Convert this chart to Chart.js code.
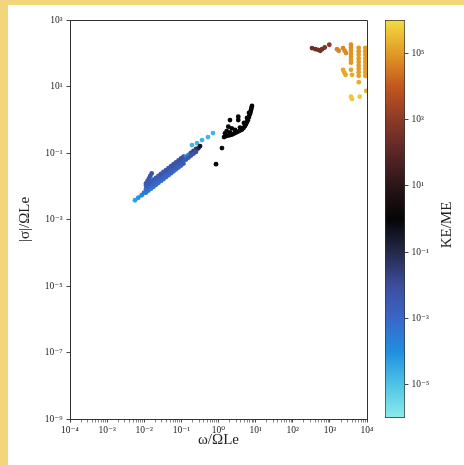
<!DOCTYPE html>
<html lang="en">
<head>
<meta charset="UTF-8">
<title>|σ| vs ω coloured by KE/ME</title>
<script src="https://cdn.jsdelivr.net/npm/chart.js"></script>
<style>
    html, body { margin: 0; padding: 0; }
    body { width: 464px; height: 465px; background: #f3d67c; position: relative; overflow: hidden; }
    .panel { position: absolute; left: 8px; top: 5px; right: 0; bottom: 0; background: #fff; }
    #mainChart { position: absolute; left: 0; top: 0; }
    #barChart { position: absolute; left: 360px; top: 0; }
</style>
</head>
<body>
<div class="panel"></div>
<canvas id="mainChart" width="464" height="465"></canvas>
<canvas id="barChart" width="104" height="465"></canvas>

<script>
// --- blue branch (small KE/ME) ---
const blueOmega = [
    0.00564, 0.00692, 0.00853, 0.00984,
    0.01114, 0.0130, 0.0152, 0.0177, 0.0207, 0.0242, 0.0282, 0.0330, 0.0386, 0.0450, 0.0526, 0.0614, 0.0717, 0.0837, 0.0977, 0.114,
    0.01114, 0.0130, 0.0152, 0.0177, 0.0207, 0.0242, 0.0282, 0.0330, 0.0386, 0.0450, 0.0526, 0.0614, 0.0717, 0.0837, 0.0977, 0.114,
    0.01114, 0.0130, 0.0152, 0.0177, 0.0207, 0.0242, 0.0282, 0.0330, 0.0386, 0.0450, 0.0526, 0.0614, 0.0717, 0.0837, 0.0977, 0.114,
    0.133, 0.156, 0.182, 0.212, 0.248,
    0.133, 0.156, 0.182, 0.212, 0.248,
    0.01589, 0.01456, 0.01343, 0.01225, 0.01114,
    0.193, 0.264, 0.360, 0.521, 0.711,
    0.286, 0.318
];
const blueSigma = [
    0.00379, 0.00452, 0.00537, 0.00638,
    0.00648, 0.0074, 0.00846, 0.00967, 0.01105, 0.01264, 0.01447, 0.01654, 0.0189, 0.0216, 0.02469, 0.02821, 0.03224, 0.03685, 0.04212, 0.04814,
    0.00826, 0.00944, 0.01079, 0.01233, 0.01409, 0.01611, 0.01845, 0.02109, 0.0241, 0.02754, 0.03148, 0.03597, 0.04111, 0.04699, 0.0537, 0.06138,
    0.01053, 0.01204, 0.01376, 0.01572, 0.01796, 0.02054, 0.02352, 0.02689, 0.03073, 0.03511, 0.04014, 0.04586, 0.05242, 0.05991, 0.06847, 0.07826,
    0.0772, 0.0884, 0.1010, 0.1155, 0.1319,
    0.0638, 0.0730, 0.0835, 0.0955, 0.1090,
    0.0243, 0.0204, 0.0171, 0.0144, 0.0121,
    0.173, 0.199, 0.245, 0.302, 0.398,
    0.138, 0.161
];
const blueKeme = [
    5e-5, 8e-5, 1.5e-4, 3e-4,
    3e-4, 4e-4, 3e-4, 5e-4, 6e-4, 8e-4, 8e-4, 1e-3, 9e-4, 1e-3, 1.2e-3, 1e-3, 1.2e-3, 1.5e-3, 1.5e-3, 2e-3,
    8e-4, 1e-3, 1e-3, 1.2e-3, 1e-3, 1.3e-3, 1.5e-3, 1.5e-3, 1.5e-3, 1.8e-3, 2e-3, 2e-3, 2e-3, 2.5e-3, 3e-3, 3e-3,
    2e-3, 3e-3, 2.5e-3, 3e-3, 3e-3, 3e-3, 4e-3, 3e-3, 4e-3, 4e-3, 5e-3, 5e-3, 6e-3, 6e-3, 7e-3, 8e-3,
    2e-4, 2e-4, 1.5e-2, 2e-2, 3e-2,
    3e-3, 4e-3, 5e-3, 6e-3, 1e-2,
    5e-3, 5e-3, 4e-3, 4e-3, 3e-3,
    2e-5, 2e-5, 2e-5, 2e-5, 2e-5,
    0.08, 0.4
];

// --- black arc (KE/ME ~ 1) ---
const blackOmega = [
    7.98, 7.74, 7.50, 7.28, 7.05, 6.63, 6.23, 5.86, 5.51, 5.17, 4.71, 4.30, 3.79, 3.35, 2.96, 2.62, 2.31, 2.04, 1.80, 1.59, 1.41,
    6.63, 5.86, 4.86, 3.79, 2.78,
    1.84, 2.27, 1.66, 2.04, 1.50, 2.04, 3.41, 3.41,
    1.24, 0.857
];
const blackSigma = [
    2.60, 2.26, 1.97, 1.71, 1.49, 1.21, 0.98, 0.855, 0.745, 0.647, 0.564, 0.508, 0.474, 0.442, 0.412, 0.385, 0.359, 0.347, 0.335, 0.323, 0.302,
    1.60, 1.13, 0.80, 0.583, 0.491,
    0.617, 0.552, 0.458, 0.418, 0.390, 0.98, 1.24, 0.98,
    0.141, 0.046
];
const blackKeme = [
    1, 1, 1, 1, 1, 1, 1, 1, 1, 1, 1, 1, 1, 1, 1, 1, 1, 1, 1, 1, 1,
    1, 1, 1, 1, 1,
    1, 1, 1, 1, 1, 1, 1, 1,
    0.7, 0.8
];

// --- warm branch (large KE/ME) ---
const warmOmega = [
    330, 405, 479, 552, 614, 726, 966,
    1556, 1729,
    2259, 2507, 2718,
    3706, 3706, 3706, 3706, 3706, 3706, 3706,
    5975, 5975, 5975, 5975, 5975, 5975, 5975, 5975, 5975,
    8995, 8995, 8995, 8995, 8995, 8995, 8995, 8995, 8995,
    2259, 2450, 2650, 3706, 3945, 6000, 9577,
    3706, 3945, 6357
];
const warmSigma = [
    143, 133, 127, 119, 133, 149, 180,
    133, 119,
    143, 119, 101,
    180, 146, 119, 96, 78, 63, 52,
    146, 115, 90, 70, 55, 43, 34, 26.6, 20.9,
    146, 115, 90, 70, 55, 43, 34, 26.6, 20.9,
    31.7, 26.3, 22.4, 31.7, 22.4, 13.5, 7.36,
    4.96, 4.23, 4.96
];
const warmKeme = [
    250, 250, 300, 300, 300, 400, 1000,
    5e4, 5e4,
    5e4, 6e4, 6e4,
    7e4, 7e4, 8e4, 8e4, 8e4, 9e4, 9e4,
    9e4, 9e4, 1e5, 1e5, 1e5, 1e5, 1.1e5, 1.2e5, 1.2e5,
    1e5, 1e5, 1e5, 1.1e5, 1.1e5, 1.2e5, 1.2e5, 1.3e5, 1.3e5,
    1.5e5, 1.5e5, 1.5e5, 1.5e5, 1.6e5, 2e5, 2e5,
    5e5, 5e5, 5e5
];

// colormap of the colour bar (KE/ME)
const keStops = [1e-6, 1e-5, 1e-4, 1e-3, 1e-2, 1e-1, 1e0, 1e1, 1e2, 1e3, 1e4, 1e5, 1e6];
const keColors = ['#8eeaea', '#4ec4e6', '#1f8fe0', '#3b66c8', '#3c4d9c', '#24294a', '#050505',
                  '#2b1517', '#5a2626', '#8c3a28', '#c2561e', '#e29a26', '#f4dc42'];

const xTickDecades = [-4, -3, -2, -1, 0, 1, 2, 3, 4];
const yTickValues = [1e-9, 1e-7, 1e-5, 1e-3, 1e-1, 1e1, 1e3];
const cbTickValues = [1e-5, 1e-3, 1e-1, 1e1, 1e3, 1e5];

const SERIF = "'Liberation Serif', 'DejaVu Serif', serif";
const INK = '#222';
const AXIS = '#333';
Chart.defaults.font.family = SERIF;
Chart.defaults.color = INK;

// helpers
const SUP = {'-': '⁻', '0': '⁰', '1': '¹', '2': '²', '3': '³', '4': '⁴', '5': '⁵', '6': '⁶', '7': '⁷', '8': '⁸', '9': '⁹'};
function powLabel(v) {
    const e = Math.round(Math.log10(v));
    return '10' + String(e).split('').map(ch => SUP[ch]).join('');
}
function isDecade(v) {
    const l = Math.log10(v);
    return Math.abs(l - Math.round(l)) < 1e-6;
}
function hexToRgb(h) {
    return [parseInt(h.slice(1, 3), 16), parseInt(h.slice(3, 5), 16), parseInt(h.slice(5, 7), 16)];
}
const keRgb = keColors.map(hexToRgb);
function colorFor(v) {
    const l = Math.log10(v);
    const ls = keStops.map(s => Math.log10(s));
    if (l <= ls[0]) return keColors[0];
    if (l >= ls[ls.length - 1]) return keColors[keColors.length - 1];
    let i = 0;
    while (l > ls[i + 1]) i++;
    const t = (l - ls[i]) / (ls[i + 1] - ls[i]);
    const a = keRgb[i], b = keRgb[i + 1];
    const c = a.map((ch, k) => Math.round(ch + (b[k] - ch) * t));
    return 'rgb(' + c.join(',') + ')';
}
function toPoints(xs, ys, cs) {
    return xs.map((x, i) => ({x: x, y: ys[i], c: cs[i]}));
}

// minor + major ticks on the x axis
const xTickValues = [];
xTickDecades.forEach(e => {
    for (let m = 1; m <= 9; m++) {
        if (e === xTickDecades[xTickDecades.length - 1] && m > 1) break;
        xTickValues.push(m * Math.pow(10, e));
    }
});

// top and right spines
const framePlugin = {
    id: 'frame',
    afterDraw(chart) {
        const {ctx, chartArea: a} = chart;
        ctx.save();
        ctx.strokeStyle = AXIS;
        ctx.lineWidth = 1;
        ctx.beginPath();
        ctx.moveTo(Math.round(a.left), Math.round(a.top) + 0.5);
        ctx.lineTo(Math.round(a.right) + 0.5, Math.round(a.top) + 0.5);
        ctx.lineTo(Math.round(a.right) + 0.5, Math.round(a.bottom));
        ctx.stroke();
        ctx.restore();
    }
};

const pointStyle = {
    backgroundColor: ctx => colorFor(ctx.raw.c),
    borderWidth: 0,
    pointRadius: 2.4,
    pointHoverRadius: 2.4
};

new Chart(document.getElementById('mainChart'), {
    type: 'scatter',
    data: {
        datasets: [
            Object.assign({label: 'blue', data: toPoints(blueOmega, blueSigma, blueKeme)}, pointStyle),
            Object.assign({label: 'black', data: toPoints(blackOmega, blackSigma, blackKeme)}, pointStyle),
            Object.assign({label: 'warm', data: toPoints(warmOmega, warmSigma, warmKeme)}, pointStyle)
        ]
    },
    options: {
        responsive: false,
        animation: false,
        events: [],
        layout: {padding: {left: 8, top: 20, right: 97, bottom: 0}},
        plugins: {legend: {display: false}, tooltip: {enabled: false}},
        scales: {
            x: {
                type: 'logarithmic',
                position: 'bottom',
                min: 1e-4,
                max: 1e4,
                afterBuildTicks: s => { s.ticks = xTickValues.map(v => ({value: v})); },
                afterFit: s => { s.height = 46; },
                ticks: {
                    autoSkip: false, maxRotation: 0, minRotation: 0,
                    padding: 2,
                    font: {size: 9.5},
                    color: INK,
                    callback: v => isDecade(v) ? powLabel(v) : ''
                },
                grid: {
                    drawOnChartArea: false,
                    tickLength: 3.5,
                    tickColor: AXIS,
                    tickWidth: ctx => (ctx.tick && isDecade(ctx.tick.value)) ? 0.9 : 0.6
                },
                border: {color: AXIS, width: 1},
                title: {display: true, text: 'ω/ΩLe', font: {size: 15}, color: INK, padding: {top: 0, bottom: 16}}
            },
            y: {
                type: 'logarithmic',
                position: 'left',
                min: 1e-9,
                max: 1e3,
                afterBuildTicks: s => { s.ticks = yTickValues.map(v => ({value: v})); },
                afterFit: s => { s.width = 62; },
                ticks: {
                    autoSkip: false,
                    padding: 4,
                    font: {size: 9.5},
                    color: INK,
                    callback: v => powLabel(v)
                },
                grid: {drawOnChartArea: false, tickLength: 3.5, tickColor: AXIS, tickWidth: 0.9},
                border: {color: AXIS, width: 1},
                title: {display: true, text: '|σ|/ΩLe', font: {size: 15}, color: INK, padding: {top: 8, bottom: 0}}
            }
        }
    },
    plugins: [framePlugin]
});

// colour bar
const cbTitlePlugin = {
    id: 'cbTitle',
    afterDraw(chart) {
        const {ctx, chartArea: a} = chart;
        ctx.save();
        ctx.translate(a.right + 42, (a.top + a.bottom) / 2 + 6);
        ctx.rotate(-Math.PI / 2);
        ctx.font = '15px ' + SERIF;
        ctx.fillStyle = INK;
        ctx.textAlign = 'center';
        ctx.textBaseline = 'middle';
        ctx.fillText('KE/ME', 0, 0);
        ctx.restore();
    }
};

new Chart(document.getElementById('barChart'), {
    type: 'bar',
    data: {
        labels: [''],
        datasets: [{
            data: [[keStops[0], keStops[keStops.length - 1]]],
            backgroundColor: ctx => {
                const chart = ctx.chart;
                const area = chart.chartArea;
                if (!area) return keColors[0];
                const y = chart.scales.y;
                const g = chart.ctx.createLinearGradient(0, area.bottom, 0, area.top);
                keStops.forEach((v, i) => {
                    const f = (y.getPixelForValue(v) - area.bottom) / (area.top - area.bottom);
                    g.addColorStop(Math.min(1, Math.max(0, f)), keColors[i]);
                });
                return g;
            },
            borderColor: AXIS,
            borderWidth: 1,
            borderSkipped: false,
            barPercentage: 1,
            categoryPercentage: 1
        }]
    },
    options: {
        responsive: false,
        animation: false,
        events: [],
        layout: {padding: {left: 25, top: 20, right: 0, bottom: 47}},
        plugins: {legend: {display: false}, tooltip: {enabled: false}},
        scales: {
            x: {display: false},
            y: {
                type: 'logarithmic',
                position: 'right',
                min: keStops[0],
                max: keStops[keStops.length - 1],
                afterBuildTicks: s => { s.ticks = cbTickValues.map(v => ({value: v})); },
                afterFit: s => { s.width = 59; },
                ticks: {autoSkip: false, padding: 3, font: {size: 9.5}, color: INK, callback: v => powLabel(v)},
                grid: {drawOnChartArea: false, tickLength: 3.5, tickColor: AXIS, tickWidth: 0.9},
                border: {display: false}
            }
        }
    },
    plugins: [cbTitlePlugin]
});
</script>
</body>
</html>
